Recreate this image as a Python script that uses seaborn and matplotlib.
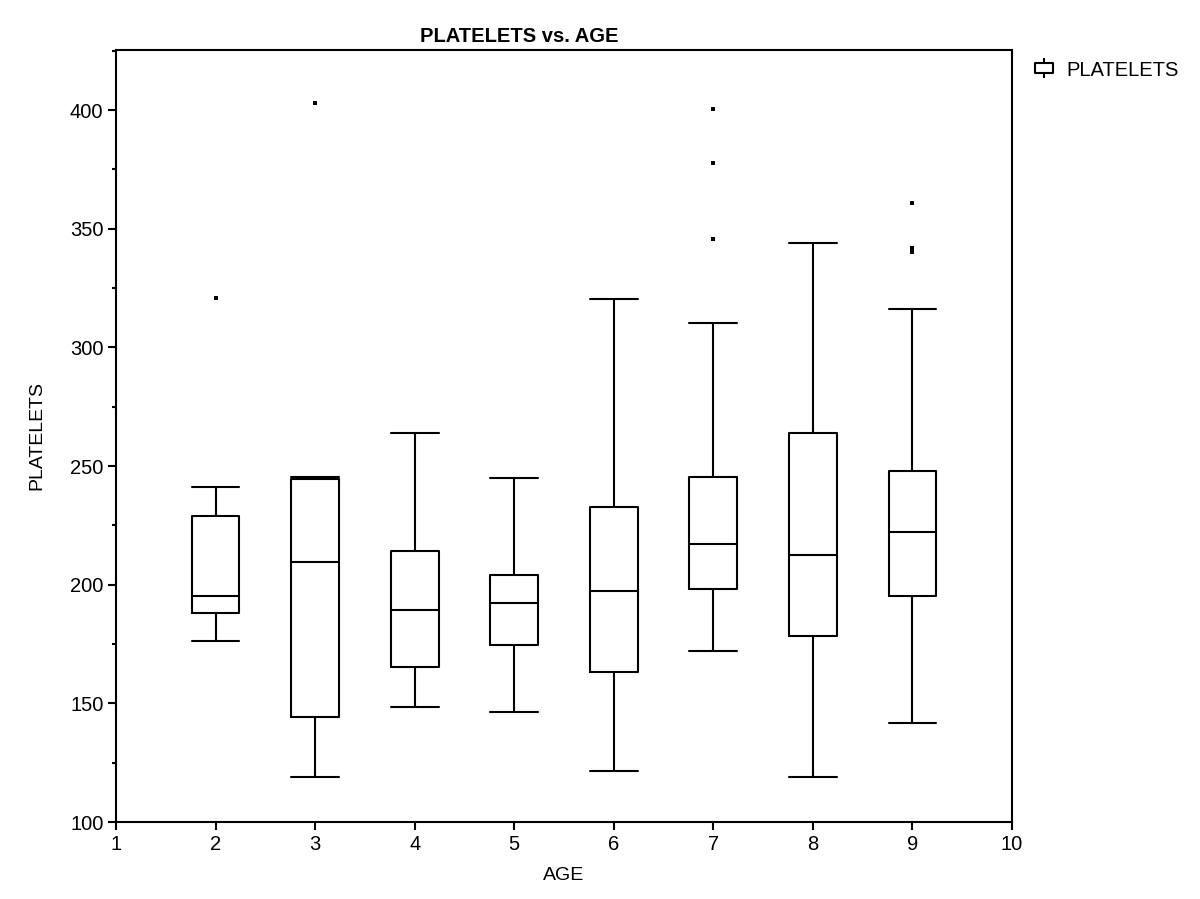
import numpy as np
import pandas as pd
import matplotlib
matplotlib.use("Agg")
import matplotlib.pyplot as plt
from matplotlib.path import Path
from matplotlib.lines import Line2D
from matplotlib.ticker import MultipleLocator
import seaborn as sns

# ---- data ----
ages = [2, 3, 4, 5, 6, 7, 8, 9]
whisker_low = [176.3, 119.1, 148.5, 146.2, 121.4, 171.9, 119.1, 141.8]
q1 = [188.1, 144.1, 165.2, 174.7, 163.1, 198.2, 178.4, 195.2]
median = [195.4, 209.7, 189.3, 192.4, 197.3, 217.1, 212.7, 222.3]
q3 = [228.9, 244.7, 214.3, 204.2, 232.6, 245.5, 264.0, 247.9]
whisker_high = [241.3, 245.3, 264.0, 245.0, 320.4, 310.1, 343.8, 316.0]
outlier_age = [2, 3, 7, 7, 7, 9, 9, 9]
outlier_val = [320.7, 402.9, 400.4, 377.7, 345.5, 361.0, 342.0, 340.2]
x_ticks = [1, 2, 3, 4, 5, 6, 7, 8, 9, 10]
y_ticks = [100, 150, 200, 250, 300, 350, 400]

rows = []
for i, a in enumerate(ages):
    for v in (whisker_low[i], q1[i], median[i], q3[i], whisker_high[i]):
        rows.append({"AGE": a, "PLATELETS": v})
df = pd.DataFrame(rows)
out_df = pd.DataFrame({"AGE": outlier_age, "PLATELETS": outlier_val})

sns.set_style("ticks")
plt.rcParams["font.family"] = ["Liberation Sans", "DejaVu Sans"]
plt.rcParams["text.color"] = "black"

fig = plt.figure(figsize=(12, 8.99), dpi=100)
ax = fig.add_axes([116 / 1200, 1 - 822 / 899, (1012 - 116) / 1200, (822 - 50) / 899])

lw = 1.5
sns.boxplot(data=df, x="AGE", y="PLATELETS", native_scale=True, width=0.48,
            whis=np.inf, fill=False, color="black", linecolor="black",
            linewidth=lw, capwidths=0.48, ax=ax)
sns.scatterplot(data=out_df, x="AGE", y="PLATELETS", marker="s", s=7,
                color="black", edgecolor="black", linewidth=0, ax=ax, legend=False)

ax.set_xlim(1, 10)
ax.set_ylim(100, 425.3)
ax.set_xticks(x_ticks)
ax.set_xticklabels([str(t) for t in x_ticks])
ax.set_yticks(y_ticks)
ax.yaxis.set_minor_locator(MultipleLocator(25))
for s in ax.spines.values():
    s.set_visible(True)
    s.set_linewidth(lw)
    s.set_color("black")
ax.tick_params(axis="both", which="major", direction="out", length=6, width=lw,
               labelsize=14.5, colors="black", pad=3)
ax.tick_params(axis="y", which="minor", direction="out", length=3, width=lw, colors="black")
ax.tick_params(axis="x", which="minor", bottom=False)

ax.set_xlabel("AGE", fontsize=14, color="black")
ax.set_ylabel("PLATELETS", fontsize=14, color="black")
ax.xaxis.set_label_coords(0.5, -0.058)
ax.yaxis.set_label_coords(-0.079, 0.5)

fig.text(519 / 1200, 1 - 37 / 899, "PLATELETS vs. AGE", ha="center", va="center",
         fontsize=14.5, fontweight="bold", color="black")

# legend icon: small box with stems
verts = [(-1, -0.55), (1, -0.55), (1, 0.55), (-1, 0.55), (-1, -0.55),
         (0, 0.55), (0, 1.1), (0, -0.55), (0, -1.1)]
codes = [Path.MOVETO, Path.LINETO, Path.LINETO, Path.LINETO, Path.CLOSEPOLY,
         Path.MOVETO, Path.LINETO, Path.MOVETO, Path.LINETO]
icon = Path(verts, codes)
handle = Line2D([], [], linestyle="none", marker=icon, markersize=15,
                markerfacecolor="none", markeredgecolor="black", markeredgewidth=1.5)
fig.legend(handles=[handle], labels=["PLATELETS"], loc="center left",
           bbox_to_anchor=(1022 / 1200, 1 - 70 / 899), frameon=False,
           fontsize=14.5, labelcolor="black", handlelength=1.2,
           handletextpad=0.5, borderpad=0)

fig.savefig("out.png", dpi=100)
